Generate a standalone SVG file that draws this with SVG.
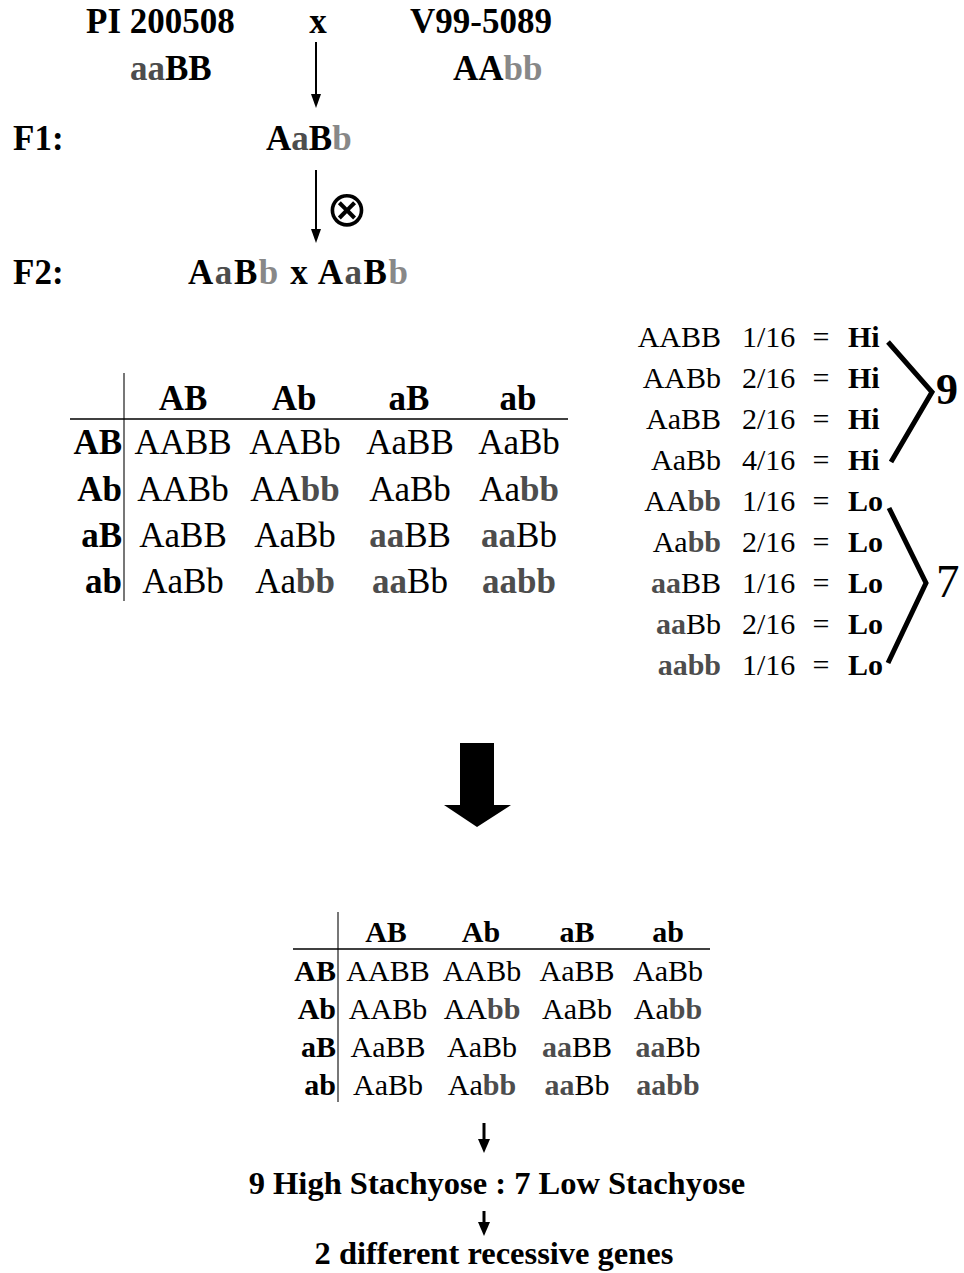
<svg xmlns="http://www.w3.org/2000/svg" width="964" height="1273" viewBox="0 0 964 1273">
<defs>
<style>
text{font-family:"Liberation Serif","Times New Roman",serif;fill:#000}
.b{font-weight:bold}
.t0{font-size:35px;font-weight:bold}
.g1{fill:#4d4d4d;font-weight:bold}
.g2{fill:#888888;font-weight:bold}
.h1{font-size:35px;font-weight:bold;text-anchor:middle}
.c1{font-size:35px;text-anchor:middle}
.r1{font-size:35px;font-weight:bold;text-anchor:end}
.h2{font-size:30px;font-weight:bold;text-anchor:middle}
.c2{font-size:30px;text-anchor:middle}
.r2{font-size:30px;font-weight:bold;text-anchor:end}
.lg{font-size:30px;text-anchor:end}
.lf{font-size:30px}
.le{font-size:30px;text-anchor:middle}
.lh{font-size:30px;font-weight:bold}
.bt{font-size:32.5px;font-weight:bold;text-anchor:middle}
.ln{stroke:#000;stroke-width:2;fill:none}
.grid{stroke:#000;stroke-width:1.3;fill:none}
.vgrid{stroke:#777;stroke-width:2;fill:none}
.br{stroke:#000;stroke-width:5;fill:none;stroke-linejoin:miter}
.ah{fill:#000}
</style>
</defs>
<rect width="964" height="1273" fill="#fff"/>

<g id="connectors">
<line x1="316" y1="42" x2="316" y2="94" class="ln"/>
<path d="M311,94 L321,94 L316,108 Z" class="ah"/>
<line x1="316" y1="170" x2="316" y2="229" class="ln"/>
<path d="M311,229 L321,229 L316,243 Z" class="ah"/>
<polygon points="460,743 494,743 494,805 511,805 477,827 444,805 460,805" class="ah"/>
<line x1="484" y1="1123" x2="484" y2="1140" stroke="#000" stroke-width="3"/>
<path d="M478,1139 L490,1139 L484,1153 Z" class="ah"/>
<line x1="484" y1="1211" x2="484" y2="1223" stroke="#000" stroke-width="3"/>
<path d="M478,1222 L490,1222 L484,1236 Z" class="ah"/>
</g>

<g id="parents">
<text class="t0" x="86" y="33">PI 200508</text>
<text class="t0" x="318" y="33" text-anchor="middle">x</text>
<text class="t0" x="410" y="33">V99-5089</text>
<text class="t0" x="130" y="80"><tspan class="g1">aa</tspan>BB</text>
<text class="t0" x="453" y="80">AA<tspan class="g2">bb</tspan></text>
</g>

<g id="f1">
<text class="t0" x="13" y="150">F1:</text>
<text class="t0" x="266" y="150">A<tspan class="g1">a</tspan>B<tspan class="g2">b</tspan></text>
<text x="347" y="226" font-family="DejaVu Sans, sans-serif" font-size="50" text-anchor="middle">⊗</text>
</g>

<g id="f2">
<text class="t0" x="13" y="284">F2:</text>
<text class="t0" x="188" y="284" textLength="220">A<tspan class="g1">a</tspan>B<tspan class="g2">b</tspan> x A<tspan class="g1">a</tspan>B<tspan class="g2">b</tspan></text>
</g>

<g id="table1">
<line x1="124" y1="373" x2="124" y2="601" class="vgrid"/>
<line x1="70" y1="419" x2="568" y2="419" class="grid"/>
<text class="h1" x="183" y="410">AB</text>
<text class="h1" x="294" y="410">Ab</text>
<text class="h1" x="409" y="410">aB</text>
<text class="h1" x="518" y="410">ab</text>
<text class="r1" x="122" y="454">AB</text>
<text class="r1" x="122" y="501">Ab</text>
<text class="r1" x="122" y="547">aB</text>
<text class="r1" x="122" y="593">ab</text>
<text class="c1" x="183" y="454">AABB</text>
<text class="c1" x="295" y="454">AABb</text>
<text class="c1" x="410" y="454">AaBB</text>
<text class="c1" x="519" y="454">AaBb</text>
<text class="c1" x="183" y="501">AABb</text>
<text class="c1" x="295" y="501">AA<tspan class="g1">bb</tspan></text>
<text class="c1" x="410" y="501">AaBb</text>
<text class="c1" x="519" y="501">Aa<tspan class="g1">bb</tspan></text>
<text class="c1" x="183" y="547">AaBB</text>
<text class="c1" x="295" y="547">AaBb</text>
<text class="c1" x="410" y="547"><tspan class="g1">aa</tspan>BB</text>
<text class="c1" x="519" y="547"><tspan class="g1">aa</tspan>Bb</text>
<text class="c1" x="183" y="593">AaBb</text>
<text class="c1" x="295" y="593">Aa<tspan class="g1">bb</tspan></text>
<text class="c1" x="410" y="593"><tspan class="g1">aa</tspan>Bb</text>
<text class="c1" x="519" y="593"><tspan class="g1">aabb</tspan></text>
</g>

<g id="ratios">
<text class="lg" x="721" y="347">AABB</text>
<text class="lg" x="721" y="388">AABb</text>
<text class="lg" x="721" y="429">AaBB</text>
<text class="lg" x="721" y="470">AaBb</text>
<text class="lg" x="721" y="511">AA<tspan class="g1">bb</tspan></text>
<text class="lg" x="721" y="552">Aa<tspan class="g1">bb</tspan></text>
<text class="lg" x="721" y="593"><tspan class="g1">aa</tspan>BB</text>
<text class="lg" x="721" y="634"><tspan class="g1">aa</tspan>Bb</text>
<text class="lg" x="721" y="675"><tspan class="g1">aabb</tspan></text>
<text class="lf" x="742" y="347">1/16</text>
<text class="lf" x="742" y="388">2/16</text>
<text class="lf" x="742" y="429">2/16</text>
<text class="lf" x="742" y="470">4/16</text>
<text class="lf" x="742" y="511">1/16</text>
<text class="lf" x="742" y="552">2/16</text>
<text class="lf" x="742" y="593">1/16</text>
<text class="lf" x="742" y="634">2/16</text>
<text class="lf" x="742" y="675">1/16</text>
<text class="le" x="821" y="347">=</text>
<text class="le" x="821" y="388">=</text>
<text class="le" x="821" y="429">=</text>
<text class="le" x="821" y="470">=</text>
<text class="le" x="821" y="511">=</text>
<text class="le" x="821" y="552">=</text>
<text class="le" x="821" y="593">=</text>
<text class="le" x="821" y="634">=</text>
<text class="le" x="821" y="675">=</text>
<text class="lh" x="848" y="347">Hi</text>
<text class="lh" x="848" y="388">Hi</text>
<text class="lh" x="848" y="429">Hi</text>
<text class="lh" x="848" y="470">Hi</text>
<text class="lh" x="848" y="511">Lo</text>
<text class="lh" x="848" y="552">Lo</text>
<text class="lh" x="848" y="593">Lo</text>
<text class="lh" x="848" y="634">Lo</text>
<text class="lh" x="848" y="675">Lo</text>
</g>

<g id="bracket9">
<polyline points="888,342 932,392 891,462" class="br"/>
<text x="936" y="404" font-size="44" font-weight="bold">9</text>
</g>
<g id="bracket7">
<polyline points="889,508 926,583 888,663" class="br"/>
<text x="936" y="597" font-size="47">7</text>
</g>

<g id="table2">
<line x1="338" y1="912" x2="338" y2="1102" class="vgrid"/>
<line x1="293" y1="949" x2="710" y2="949" class="grid"/>
<text class="h2" x="386" y="942">AB</text>
<text class="h2" x="481" y="942">Ab</text>
<text class="h2" x="577" y="942">aB</text>
<text class="h2" x="668" y="942">ab</text>
<text class="r2" x="336" y="981">AB</text>
<text class="r2" x="336" y="1019">Ab</text>
<text class="r2" x="336" y="1057">aB</text>
<text class="r2" x="336" y="1095">ab</text>
<text class="c2" x="388" y="981">AABB</text>
<text class="c2" x="482" y="981">AABb</text>
<text class="c2" x="577" y="981">AaBB</text>
<text class="c2" x="668" y="981">AaBb</text>
<text class="c2" x="388" y="1019">AABb</text>
<text class="c2" x="482" y="1019">AA<tspan class="g1">bb</tspan></text>
<text class="c2" x="577" y="1019">AaBb</text>
<text class="c2" x="668" y="1019">Aa<tspan class="g1">bb</tspan></text>
<text class="c2" x="388" y="1057">AaBB</text>
<text class="c2" x="482" y="1057">AaBb</text>
<text class="c2" x="577" y="1057"><tspan class="g1">aa</tspan>BB</text>
<text class="c2" x="668" y="1057"><tspan class="g1">aa</tspan>Bb</text>
<text class="c2" x="388" y="1095">AaBb</text>
<text class="c2" x="482" y="1095">Aa<tspan class="g1">bb</tspan></text>
<text class="c2" x="577" y="1095"><tspan class="g1">aa</tspan>Bb</text>
<text class="c2" x="668" y="1095"><tspan class="g1">aabb</tspan></text>
</g>

<g id="result">
<text class="bt" x="497" y="1194">9 High Stachyose : 7 Low Stachyose</text>
<text class="bt" x="494" y="1264">2 different recessive genes</text>
</g>
</svg>
